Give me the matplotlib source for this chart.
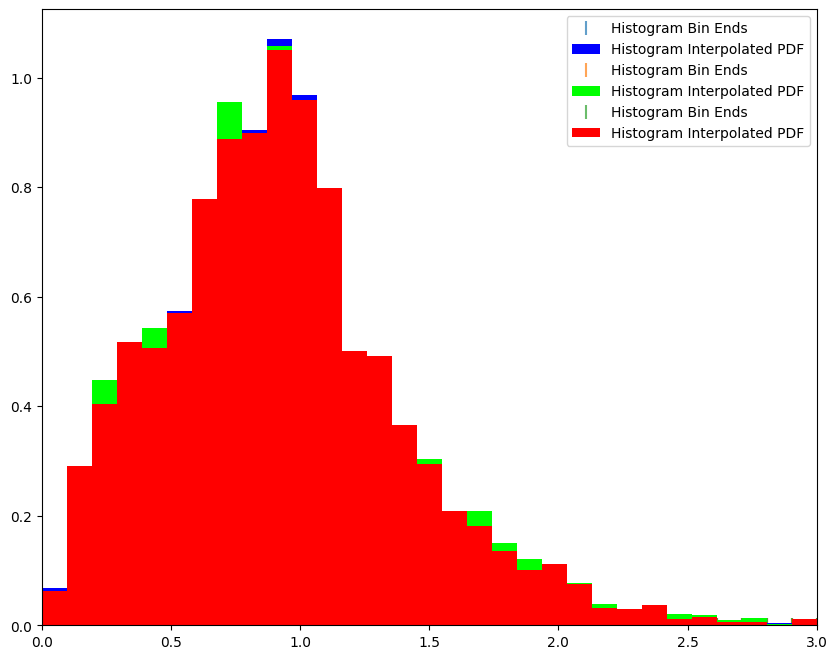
import numpy as np
import matplotlib
matplotlib.use("Agg")
import matplotlib.pyplot as plt

# 31 equal-width bins on [0, 3]
bin_edges = np.linspace(0.0, 3.0, 32)

pdf_blue = [0.0676, 0.2912, 0.4043, 0.5176, 0.5067, 0.5743, 0.7788, 0.8871, 0.9048, 1.0713,
            0.9689, 0.7993, 0.5012, 0.4921, 0.3660, 0.2947, 0.2088, 0.1814, 0.1358, 0.1010,
            0.1120, 0.0755, 0.0316, 0.0298, 0.0371, 0.0115, 0.0152, 0.0060, 0.0060, 0.0045,
            0.0115]
pdf_green = [0.0627, 0.2912, 0.4482, 0.5176, 0.5432, 0.5706, 0.7788, 0.9560, 0.8993, 1.0585,
             0.9597, 0.7993, 0.5012, 0.4921, 0.3660, 0.3039, 0.2088, 0.2088, 0.1504, 0.1211,
             0.1120, 0.0767, 0.0389, 0.0298, 0.0371, 0.0206, 0.0188, 0.0097, 0.0133, 0.0024,
             0.0115]
pdf_red = [0.0627, 0.2912, 0.4043, 0.5176, 0.5067, 0.5706, 0.7788, 0.8871, 0.8993, 1.0512,
           0.9597, 0.7993, 0.5012, 0.4921, 0.3660, 0.2947, 0.2088, 0.1814, 0.1358, 0.1010,
           0.1120, 0.0755, 0.0316, 0.0298, 0.0371, 0.0115, 0.0152, 0.0060, 0.0060, 0.0000,
           0.0115]

series = [(pdf_blue, "#0000ff", "C0"),
          (pdf_green, "#00ff00", "C1"),
          (pdf_red, "#ff0000", "C2")]

fig, ax = plt.subplots(figsize=(10, 8), dpi=100)
widths = np.diff(bin_edges)
handles = []
for values, fill_color, marker_color in series:
    (ln,) = ax.plot(bin_edges, np.zeros_like(bin_edges), "|", color=marker_color,
                    alpha=0.7, ms=10, mew=1.5, zorder=0.5, label="Histogram Bin Ends")
    bars = ax.bar(bin_edges[:-1], values, width=widths, align="edge", color=fill_color,
                  linewidth=0, zorder=1, label="Histogram Interpolated PDF")
    handles.extend([ln, bars])

ax.set_xlim(0, 3)
ax.legend(handles=handles, labels=[h.get_label() for h in handles], loc="upper right")
fig.savefig("out.png", dpi=100, bbox_inches="tight")
